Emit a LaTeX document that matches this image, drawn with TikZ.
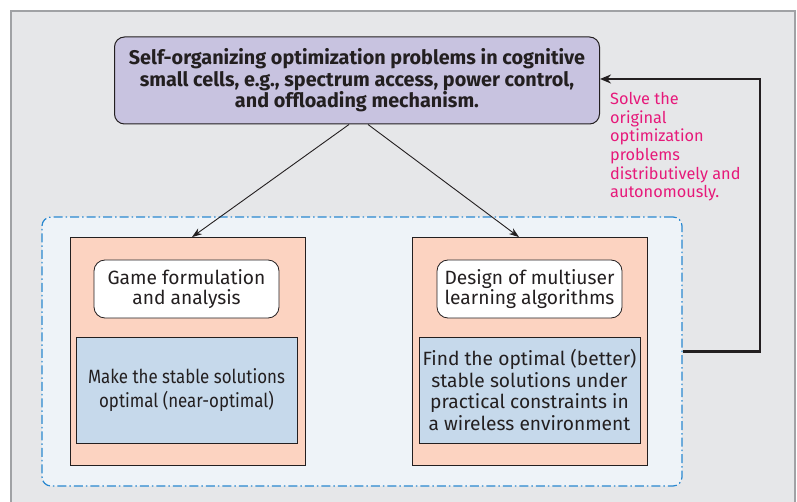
\documentclass[tikz,border=0pt]{standalone}
\usepackage{fontspec}
\setmainfont{Fira Sans}
\newfontfamily\narrowsans[FakeStretch=0.88]{Fira Sans}
\usetikzlibrary{arrows.meta,calc}

\definecolor{panelgray}{HTML}{E6E7E9}
\definecolor{panelline}{HTML}{A0A2A5}
\definecolor{lavender}{HTML}{C8C3E0}
\definecolor{regionfill}{HTML}{EEF3F8}
\definecolor{regionline}{HTML}{2A88D0}
\definecolor{peach}{HTML}{FCD3C1}
\definecolor{paleblue}{HTML}{C6D9EB}
\definecolor{notecolor}{HTML}{E6197A}
\definecolor{ink}{HTML}{231F20}

\tikzset{
  boxtext/.style={font=\fontsize{19.2}{20.5}\selectfont, text=ink, align=center, inner sep=0pt},
  topbox/.style={boxtext, draw=ink, fill=lavender, line width=1pt, rounded corners=10pt,
    minimum width=485pt, minimum height=87pt, font=\fontsize{19.8}{21.5}\selectfont\bfseries},
  region/.style={draw=regionline, fill=regionfill, line width=1.2pt,
    dash pattern=on 9pt off 3pt on 1.5pt off 3pt, rounded corners=9pt,
    minimum width=640pt, minimum height=269pt},
  outerbox/.style={draw=ink, fill=peach, line width=0.8pt, minimum width=235pt, minimum height=228pt},
  labelbox/.style={boxtext, draw=ink, fill=white, line width=0.8pt, rounded corners=11pt,
    minimum width=185pt, minimum height=58pt},
  solbox/.style={boxtext, draw=ink, fill=paleblue, line width=0.8pt,
    minimum width=221pt, minimum height=106pt},
  link/.style={draw=ink, line width=0.9pt, -{Stealth[length=10pt,width=7pt]}},
  feedback/.style={draw=ink, line width=2.4pt, -{Stealth[length=11pt,width=9pt]}},
}

\begin{document}
\begin{tikzpicture}[x=1pt,y=-1pt]
\useasboundingbox (0,0) rectangle (797,502);
% gray panel
\fill[panelgray] (11,11) rectangle (795,502);
\draw[panelline,line width=1.2pt] (11,502) -- (11,11) -- (795,11) -- (795,502);

% problem statement
\node[topbox] (prob) at (357,80.5) {Self-organizing optimization problems in cognitive\\
  small cells, e.g., spectrum access, power control,\\ and offloading mechanism.};

% the two approaches
\node[region] (reg) at (362,351.5) {};
\node[outerbox] (game) at (187.5,351.5) {};
\node[outerbox] (learn) at (529.5,351.5) {};
\node[labelbox] (gametitle) at (186.5,289) {Game formulation\\ and analysis};
\node[labelbox] (learntitle) at (529.5,289) {Design of multiuser\\ learning algorithms};
\node[solbox, font=\narrowsans\fontsize{19.2}{23.5}\selectfont] (gamesol) at (186.5,390)
  {Make the stable solutions\\ optimal (near-optimal)};
\node[solbox, font=\fontsize{19.2}{21.7}\selectfont] (learnsol) at (529.5,390)
  {Find the optimal (better)\\ stable solutions under\\ practical constraints in\\ a wireless environment};

\draw[link] ([xshift=-8pt]prob.south) -- ([xshift=4.5pt]game.north);
\draw[link] ([xshift=11pt]prob.south) -- ([xshift=-10.5pt]learn.north);

% loop back to the problem
\coordinate (turn) at (760,352);
\draw[feedback] (reg.east) -- (reg.east -| turn) |- ([yshift=1.5pt]prob.east);
\node[anchor=north west, align=left, inner sep=0pt, text=notecolor,
  font=\fontsize{16.3}{18.7}\selectfont] (note) at (610,92)
  {Solve the\\ original\\ optimization\\ problems\\ distributively and\\ autonomously.};
\end{tikzpicture}
\end{document}
